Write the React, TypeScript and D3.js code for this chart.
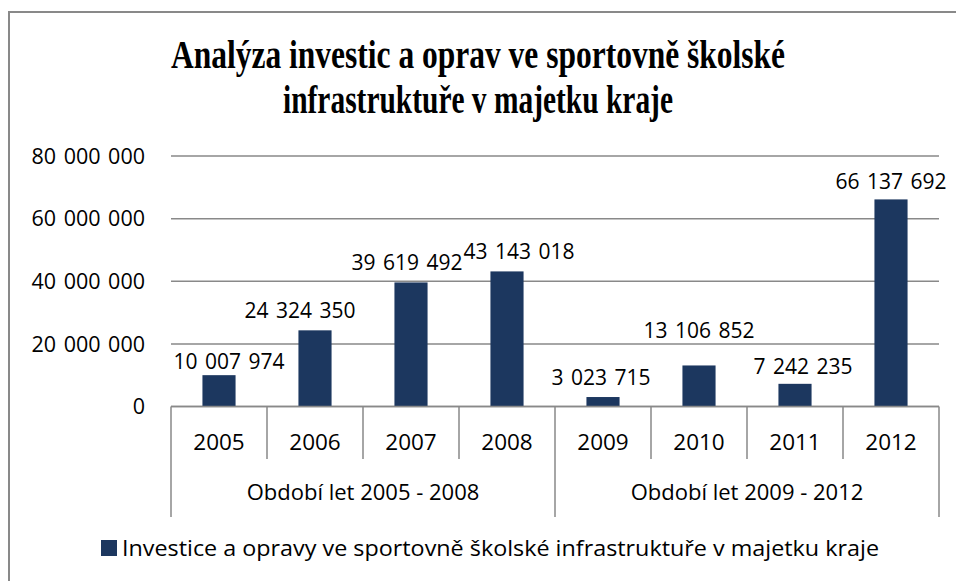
import React, { useRef, useEffect } from 'react';
import * as d3 from 'd3';

// chart data
const years = ['2005', '2006', '2007', '2008', '2009', '2010', '2011', '2012'];
const values = [10007974, 24324350, 39619492, 43143018, 3023715, 13106852, 7242235, 66137692];
const groups = ['Období let 2005 - 2008', 'Období let 2009 - 2012'];
const yTicks = [0, 20000000, 40000000, 60000000, 80000000];
const titleLines = ['Analýza investic a oprav ve sportovně školské', 'infrastruktuře v majetku kraje'];
const legendLabel = 'Investice a opravy ve sportovně školské infrastruktuře v majetku kraje';
// small manual nudges of the value labels, as in the original (dx, gap above bar)
const labelNudge = [[10, 6], [-15, 12], [-4, 12], [12, 12], [-2, 12], [0, 27], [8, 10], [0, 10]];

const fmt = (v: number) => d3.format(',')(v).replace(/,/g, ' ');

export default function App() {
    const ref = useRef<SVGSVGElement>(null);

    useEffect(() => {
        const svg = d3.select(ref.current);
        svg.selectAll('*').remove();

        const width = 956;
        const height = 581;
        const plotLeft = 171;
        const plotRight = 939;
        const plotTop = 156;
        const plotBottom = 406.5;
        const barColor = '#1c375f';
        const lineColor = '#898989';
        const sans = '"Open Sans", sans-serif';
        const numSize = 21;

        svg.attr('width', width).attr('height', height);

        // outer frame (only top and left edges visible)
        svg.append('path')
            .attr('d', `M9,${height + 5} V12 H${width + 5}`)
            .attr('fill', 'none')
            .attr('stroke', lineColor)
            .attr('stroke-width', 2);

        // title
        svg.append('g')
            .selectAll('text')
            .data(titleLines)
            .join('text')
            .attr('x', 478)
            .attr('y', (d, i) => 68 + i * 45)
            .attr('text-anchor', 'middle')
            .attr('font-family', '"Liberation Serif", "Times New Roman", serif')
            .attr('font-weight', 'bold')
            .attr('font-size', 39)
            .attr('textLength', (d, i) => (i === 0 ? 614 : 390))
            .attr('lengthAdjust', 'spacingAndGlyphs')
            .text(d => d);

        // scales
        const x = d3.scaleBand<string>()
            .domain(years)
            .range([plotLeft, plotRight])
            .padding(0);

        const y = d3.scaleLinear()
            .domain([0, 80000000])
            .range([plotBottom, plotTop]);

        const barW = x.bandwidth() * 0.345;

        // gridlines
        svg.append('g')
            .selectAll('line')
            .data(yTicks)
            .join('line')
            .attr('x1', plotLeft)
            .attr('x2', plotRight)
            .attr('y1', d => y(d))
            .attr('y2', d => y(d))
            .attr('stroke', lineColor)
            .attr('stroke-width', 1.5);

        // y tick labels
        svg.append('g')
            .selectAll('text')
            .data(yTicks)
            .join('text')
            .attr('x', 145)
            .attr('y', d => y(d))
            .attr('dy', '0.36em')
            .attr('text-anchor', 'end')
            .attr('font-family', sans)
            .attr('font-size', 21.5)
            .attr('word-spacing', 2)
            .attr('fill', '#000')
            .text(d => fmt(d));

        // bars
        svg.append('g')
            .selectAll('rect')
            .data(values)
            .join('rect')
            .attr('x', (d, i) => x(years[i])! + (x.bandwidth() - barW) / 2)
            .attr('y', d => y(d))
            .attr('width', barW)
            .attr('height', d => y(0) - y(d))
            .attr('fill', barColor);

        // value labels
        svg.append('g')
            .selectAll('text')
            .data(values)
            .join('text')
            .attr('x', (d, i) => x(years[i])! + x.bandwidth() / 2 + labelNudge[i][0])
            .attr('y', (d, i) => y(d) - labelNudge[i][1])
            .attr('text-anchor', 'middle')
            .attr('font-family', sans)
            .attr('font-size', numSize)
            .attr('word-spacing', 2)
            .attr('fill', '#000')
            .text(d => fmt(d));

        // category axis: baseline and separators
        const axis = svg.append('g');
        axis.append('line')
            .attr('x1', plotLeft)
            .attr('x2', plotRight)
            .attr('y1', y(0))
            .attr('y2', y(0))
            .attr('stroke', lineColor)
            .attr('stroke-width', 1.5);

        const bounds = years.map(d => x(d)!).concat([plotRight]);
        axis.selectAll('line.sep')
            .data(bounds)
            .join('line')
            .attr('class', 'sep')
            .attr('x1', d => d)
            .attr('x2', d => d)
            .attr('y1', y(0))
            .attr('y2', (d, i) => (i % 4 === 0 ? 517 : 459))
            .attr('stroke', lineColor)
            .attr('stroke-width', 1.5);

        axis.selectAll('text.year')
            .data(years)
            .join('text')
            .attr('class', 'year')
            .attr('x', d => x(d)! + x.bandwidth() / 2)
            .attr('y', 450)
            .attr('text-anchor', 'middle')
            .attr('font-family', sans)
            .attr('font-size', 22.5)
            .attr('fill', '#000')
            .text(d => d);

        axis.selectAll('text.group')
            .data(groups)
            .join('text')
            .attr('class', 'group')
            .attr('x', (d, i) => (bounds[i * 4] + bounds[i * 4 + 4]) / 2)
            .attr('y', 500)
            .attr('text-anchor', 'middle')
            .attr('font-family', sans)
            .attr('font-size', 22)
            .attr('fill', '#000')
            .text(d => d);

        // legend
        const legend = svg.append('g');
        legend.append('rect')
            .attr('x', 101)
            .attr('y', 540)
            .attr('width', 16)
            .attr('height', 16)
            .attr('fill', barColor);
        legend.append('text')
            .attr('x', 122)
            .attr('y', 556)
            .attr('font-family', sans)
            .attr('font-size', 22)
            .attr('textLength', 757)
            .attr('lengthAdjust', 'spacingAndGlyphs')
            .attr('fill', '#000')
            .text(legendLabel);
    }, []);

    return (
        <div style={{ position: 'absolute', left: 0, top: 0, background: '#fff' }}>
            <svg ref={ref} />
        </div>
    );
}
